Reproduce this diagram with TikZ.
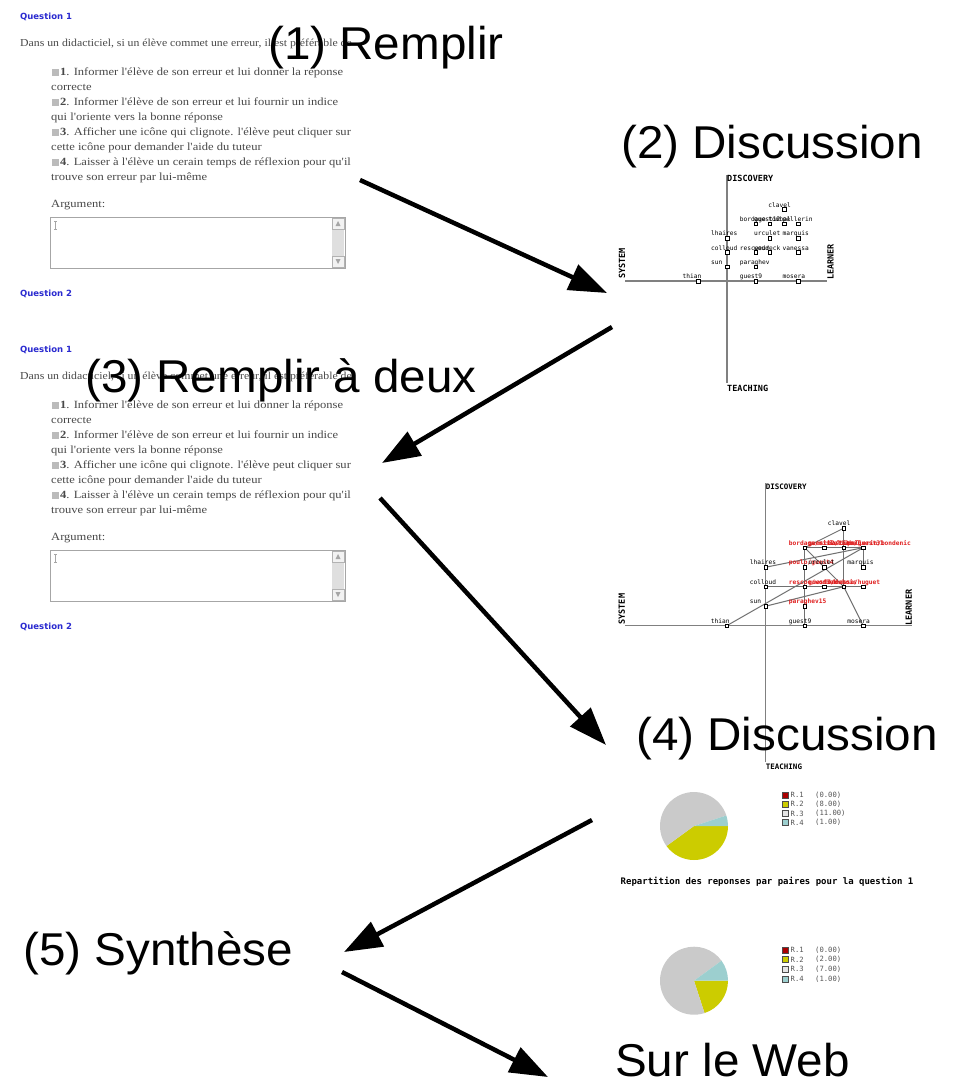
\documentclass[tikz,border=0pt]{standalone}
\usepackage{fontspec}
\setmainfont{Liberation Sans}
\newfontfamily\titlefont[FakeStretch=1.035]{Liberation Sans}
\newfontfamily\formfont[FakeStretch=1.14]{Liberation Serif}
\newfontfamily\introfont[FakeStretch=1.1]{Liberation Serif}
\newfontfamily\uifont{DejaVu Sans}
\newfontfamily\plotfont{DejaVu Sans Mono}
\usetikzlibrary{arrows.meta}

\definecolor{formgray}{HTML}{484848}
\definecolor{qblue}{HTML}{2A2AD0}
\definecolor{chkgray}{HTML}{BBBBBB}
\definecolor{axisgray}{HTML}{808080}
\definecolor{edgegray}{HTML}{707070}
\definecolor{pairred}{HTML}{E02020}
\definecolor{pieyellow}{HTML}{CCCC00}
\definecolor{piegray}{HTML}{CACACA}
\definecolor{pieteal}{HTML}{9CCFCF}
\definecolor{piered}{HTML}{AA0000}
\definecolor{legendgray}{HTML}{555555}

\tikzset{
  bigtitle/.style={font=\titlefont\fontsize{46}{50}\selectfont, inner sep=0pt, anchor=base west},
  flow/.style={line width=4.5pt, -{Triangle[length=38pt,width=27pt]}},
  qlabel/.style={font=\uifont\bfseries\fontsize{8.5}{10}\selectfont, text=qblue, inner sep=0pt, anchor=base west},
  ftext/.style={font=\formfont\fontsize{11}{13}\selectfont, text=formgray, inner sep=0pt, anchor=base west},
  fintro/.style={font=\introfont\fontsize{10.7}{13}\selectfont, text=formgray, inner sep=0pt, anchor=base west},
  areaframe/.style={draw=gray!70, line width=0.8pt},
  axisline/.style={draw=axisgray, line width=1.2pt},
  axlabel/.style={font=\plotfont\bfseries\fontsize{8.5}{9}\selectfont, inner sep=0pt},
  axlabelsmall/.style={font=\plotfont\bfseries\fontsize{7.5}{8}\selectfont, inner sep=0pt},
  ptbox/.style={draw=black, fill=white, line width=0.5pt, rectangle, minimum size=3.6pt, inner sep=0pt},
  plabel/.style={font=\plotfont\fontsize{6.2}{7}\selectfont, inner sep=0pt, anchor=base west},
  pairlabel/.style={font=\plotfont\bfseries\fontsize{6.2}{7}\selectfont, text=pairred, inner sep=0pt, anchor=base west},
  edge/.style={draw=edgegray, line width=1pt},
  legtext/.style={font=\plotfont\fontsize{7.2}{8}\selectfont, text=legendgray, inner sep=0pt, anchor=west},
  legbox/.style={line width=0.6pt, draw=black!70},
  caption/.style={font=\plotfont\bfseries\fontsize{9}{10}\selectfont, inner sep=0pt, anchor=west},
}

% one screenshot of the questionnaire form; #1 prefixes the node names
\newcommand\formshot[1]{%
  \node[qlabel] (#1-q1) at (20,19) {Question 1};
  \node[fintro] (#1-intro) at (20,46) {Dans un didacticiel, si un élève commet une erreur, il est préférable de};
  \foreach \yy in {72,102,132,162} \fill[chkgray] (52,\yy-3.5) rectangle ++(7,7);
  \node[ftext] (#1-i1) at (60,75.5) {\textbf{1}. Informer l'élève de son erreur et lui donner la réponse};
  \node[ftext] (#1-i1b) at (51,90.5) {correcte};
  \node[ftext] (#1-i2) at (60,105.5) {\textbf{2}. Informer l'élève de son erreur et lui fournir un indice};
  \node[ftext] (#1-i2b) at (51,120.5) {qui l'oriente vers la bonne réponse};
  \node[ftext] (#1-i3) at (60,135.5) {\textbf{3}. Afficher une icône qui clignote. l'élève peut cliquer sur};
  \node[ftext] (#1-i3b) at (51,150.5) {cette icône pour demander l'aide du tuteur};
  \node[ftext] (#1-i4) at (60,165.5) {\textbf{4}. Laisser à l'élève un cerain temps de réflexion pour qu'il};
  \node[ftext] (#1-i4b) at (51,180.5) {trouve son erreur par lui-même};
  \node[ftext] (#1-arg) at (51,207) {Argument:};
  % text area with its scroll bar
  \draw[areaframe] (50,217) rectangle (345,268);
  \fill[gray!25] (332,218) rectangle (344,267);
  \draw[gray!60, fill=gray!10, line width=0.5pt] (332,218) rectangle (344,229);
  \draw[gray!60, fill=gray!10, line width=0.5pt] (332,256) rectangle (344,267);
  \fill[gray!70] (338,221) -- (335.5,226) -- (340.5,226) -- cycle;
  \fill[gray!70] (338,264) -- (335.5,259) -- (340.5,259) -- cycle;
  \draw[gray!70, line width=0.5pt] (55.5,221) -- (55.5,229) (54,221) -- (57,221) (54,229) -- (57,229);
  \node[qlabel] (#1-q2) at (20,296) {Question 2};
}

% a point of a plot with its name; #1 node name, #2,#3 grid position, #4 text, #5 label style
\newcommand\gnode[5]{%
  \node[ptbox] (#1) at (#2,#3) {};
  \node[#5] (#1-l) at ([xshift=-16pt,yshift=2.3pt]#1.center) {#4};
}

% legend line of a pie chart
\newcommand\legline[5]{%
  \filldraw[legbox, fill=#3] (782.5,#2-3) rectangle ++(6,6);
  \node[legtext] (#1-r) at (790.5,#2) {#4};
  \node[legtext] (#1-v) at (815,#2) {#5};
}

\begin{document}
\begin{tikzpicture}[x=1pt,y=-1pt]
\useasboundingbox[fill=white] (0,0) rectangle (955,1079);

% the two filled-in questionnaires
\formshot{fa}
\begin{scope}[shift={(0,333)}]
  \formshot{fb}
\end{scope}

% first positioning plot (individual answers)
\begin{scope}[shift={(727,281)}, x=14.3pt, y=14.3pt]
  \draw[axisline] (0,-7.1) -- (0,7.4);
  \draw[axisline] (-7.1,0) -- (7,0);
  \node[axlabel, anchor=north west] (pa-disc) at (0,7.4) {DISCOVERY};
  \node[axlabel, anchor=north west, yshift=-2pt] (pa-teach) at (0,-7.1) {TEACHING};
  \node[axlabel, rotate=90, anchor=south west, xshift=2pt] (pa-sys) at (-7.1,0) {SYSTEM};
  \node[axlabel, rotate=90, anchor=north west, xshift=1pt] (pa-learn) at (7,0) {LEARNER};
  \gnode{pa-clavel}{4}{5}{clavel}{plabel}
  \gnode{pa-bordage}{2}{4}{bordage}{plabel}
  \gnode{pa-guest12}{3}{4}{guest12}{plabel}
  \gnode{pa-tombal}{4}{4}{tombal}{plabel}
  \gnode{pa-pellerin}{5}{4}{pellerin}{plabel}
  \gnode{pa-lhaires}{0}{3}{lhaires}{plabel}
  \gnode{pa-urculet}{3}{3}{urculet}{plabel}
  \gnode{pa-marquis}{5}{3}{marquis}{plabel}
  \gnode{pa-colloud}{0}{2}{colloud}{plabel}
  \gnode{pa-rescoeur}{2}{2}{rescoeur}{plabel}
  \gnode{pa-woddeck}{3}{2}{woddeck}{plabel}
  \gnode{pa-vanessa}{5}{2}{vanessa}{plabel}
  \gnode{pa-sun}{0}{1}{sun}{plabel}
  \gnode{pa-paraghev}{2}{1}{paraghev}{plabel}
  \gnode{pa-thian}{-2}{0}{thian}{plabel}
  \gnode{pa-guest9}{2}{0}{guest9}{plabel}
  \gnode{pa-mosera}{5}{0}{mosera}{plabel}
\end{scope}

% second positioning plot (pairs linked to their members)
\begin{scope}[shift={(765.7,625.7)}, x=19.5pt, y=19.5pt]
  \draw[axisline, line width=1pt] (0,-7.0) -- (0,7.3);
  \draw[axisline, line width=1pt] (-7.2,0) -- (7.5,0);
  \coordinate (pb-c45) at (4,5);
  \coordinate (pb-c24) at (2,4);
  \coordinate (pb-c54) at (5,4);
  \coordinate (pb-c53) at (5,3);
  \coordinate (pb-c20) at (2,0);
  \coordinate (pb-c02) at (0,2);
  \coordinate (pb-c52) at (5,2);
  \coordinate (pb-c03) at (0,3);
  \coordinate (pb-c01) at (0,1);
  \coordinate (pb-c42) at (4,2);
  \coordinate (pb-cm20) at (-2,0);
  \coordinate (pb-c50) at (5,0);
  \draw[edge] (pb-c45) -- (pb-c24);
  \draw[edge] (pb-c45) -- (pb-c42);
  \draw[edge] (pb-c24) -- (pb-c54);
  \draw[edge] (pb-c54) -- (pb-c53);
  \draw[edge] (pb-c24) -- (pb-c20);
  \draw[edge] (pb-c02) -- (pb-c52);
  \draw[edge] (pb-c03) -- (pb-c54);
  \draw[edge] (pb-c01) -- (pb-c42);
  \draw[edge] (pb-cm20) -- (pb-c54);
  \draw[edge] (pb-c24) -- (pb-c42);
  \draw[edge] (pb-c42) -- (pb-c50);
  \node[axlabelsmall, anchor=north west] (pb-disc) at (0,7.3) {DISCOVERY};
  \node[axlabelsmall, anchor=north west, yshift=-2pt] (pb-teach) at (0,-7.0) {TEACHING};
  \node[axlabel, rotate=90, anchor=south west, xshift=1pt] (pb-sys) at (-7.2,0) {SYSTEM};
  \node[axlabel, rotate=90, anchor=south west] (pb-learn) at (7.5,0) {LEARNER};
  \gnode{pb-clavel}{4}{5}{clavel}{plabel}
  \gnode{pb-p24}{2}{4}{bordage/mislel12}{pairlabel}
  \gnode{pb-p34}{3}{4}{guest12/tombal}{pairlabel}
  \gnode{pb-p44}{4}{4}{bastien/guest31}{pairlabel}
  \gnode{pb-p54}{5}{4}{pellerin/bondenic}{pairlabel}
  \gnode{pb-lhaires}{0}{3}{lhaires}{plabel}
  \gnode{pb-p23}{2}{3}{poulo/guest4}{pairlabel}
  \gnode{pb-urculet}{3}{3}{urculet}{plabel}
  \gnode{pb-marquis}{5}{3}{marquis}{plabel}
  \gnode{pb-colloud}{0}{2}{colloud}{plabel}
  \gnode{pb-p22}{2}{2}{rescoe/wodbek}{pairlabel}
  \gnode{pb-p32}{3}{2}{guest7/dubois}{pairlabel}
  \gnode{pb-p42}{4}{2}{vanessa/huguet}{pairlabel}
  \gnode{pb-p52}{5}{2}{}{plabel}
  \gnode{pb-sun}{0}{1}{sun}{plabel}
  \gnode{pb-p21}{2}{1}{paraghev15}{pairlabel}
  \gnode{pb-thian}{-2}{0}{thian}{plabel}
  \gnode{pb-guest9}{2}{0}{guest9}{plabel}
  \gnode{pb-mosera}{5}{0}{mosera}{plabel}
\end{scope}

% pie chart of the individual answers
\begin{scope}[shift={(694,826)}]
  \fill[pieyellow] (0pt,0pt) -- (0:34pt) arc[start angle=0, end angle=-144, radius=34pt] -- cycle;
  \fill[piegray] (0pt,0pt) -- (-144:34pt) arc[start angle=-144, end angle=-342, radius=34pt] -- cycle;
  \fill[pieteal] (0pt,0pt) -- (18:34pt) arc[start angle=18, end angle=0, radius=34pt] -- cycle;
\end{scope}
\legline{la1}{795}{piered}{R.1}{(0.00)}
\legline{la2}{804.3}{pieyellow}{R.2}{(8.00)}
\legline{la3}{813.5}{gray!20}{R.3}{(11.00)}
\legline{la4}{822.7}{pieteal}{R.4}{(1.00)}

\node[caption] (cap) at (620.5,881.7) {Repartition des reponses par paires pour la question 1};

% pie chart of the pair answers
\begin{scope}[shift={(694,980.7)}]
  \fill[pieyellow] (0pt,0pt) -- (0:34pt) arc[start angle=0, end angle=-72, radius=34pt] -- cycle;
  \fill[piegray] (0pt,0pt) -- (-72:34pt) arc[start angle=-72, end angle=-324, radius=34pt] -- cycle;
  \fill[pieteal] (0pt,0pt) -- (36:34pt) arc[start angle=36, end angle=0, radius=34pt] -- cycle;
\end{scope}
\legline{lb1}{950}{piered}{R.1}{(0.00)}
\legline{lb2}{959.7}{pieyellow}{R.2}{(2.00)}
\legline{lb3}{969.3}{gray!20}{R.3}{(7.00)}
\legline{lb4}{979}{pieteal}{R.4}{(1.00)}

% step titles
\node[bigtitle] (s1) at (268,59) {(1) Remplir};
\node[bigtitle] (s2) at (621,158) {(2) Discussion};
\node[bigtitle] (s3) at (85,392) {(3) Remplir à deux};
\node[bigtitle] (s4) at (636,750) {(4) Discussion};
\node[bigtitle] (s5) at (23,965) {(5) Synthèse};
\node[bigtitle] (s6) at (615,1076) {Sur le Web};

% flow between the steps
\coordinate (f1a) at (360,180);  \coordinate (f1b) at (607,293);
\coordinate (f2a) at (612,327);  \coordinate (f2b) at (382,463);
\coordinate (f3a) at (380,498);  \coordinate (f3b) at (606,745);
\coordinate (f4a) at (592,820);  \coordinate (f4b) at (344,952);
\coordinate (f5a) at (342,972);  \coordinate (f5b) at (548,1077);
\draw[flow] (f1a) -- (f1b);
\draw[flow] (f2a) -- (f2b);
\draw[flow] (f3a) -- (f3b);
\draw[flow] (f4a) -- (f4b);
\draw[flow] (f5a) -- (f5b);
\end{tikzpicture}
\end{document}
